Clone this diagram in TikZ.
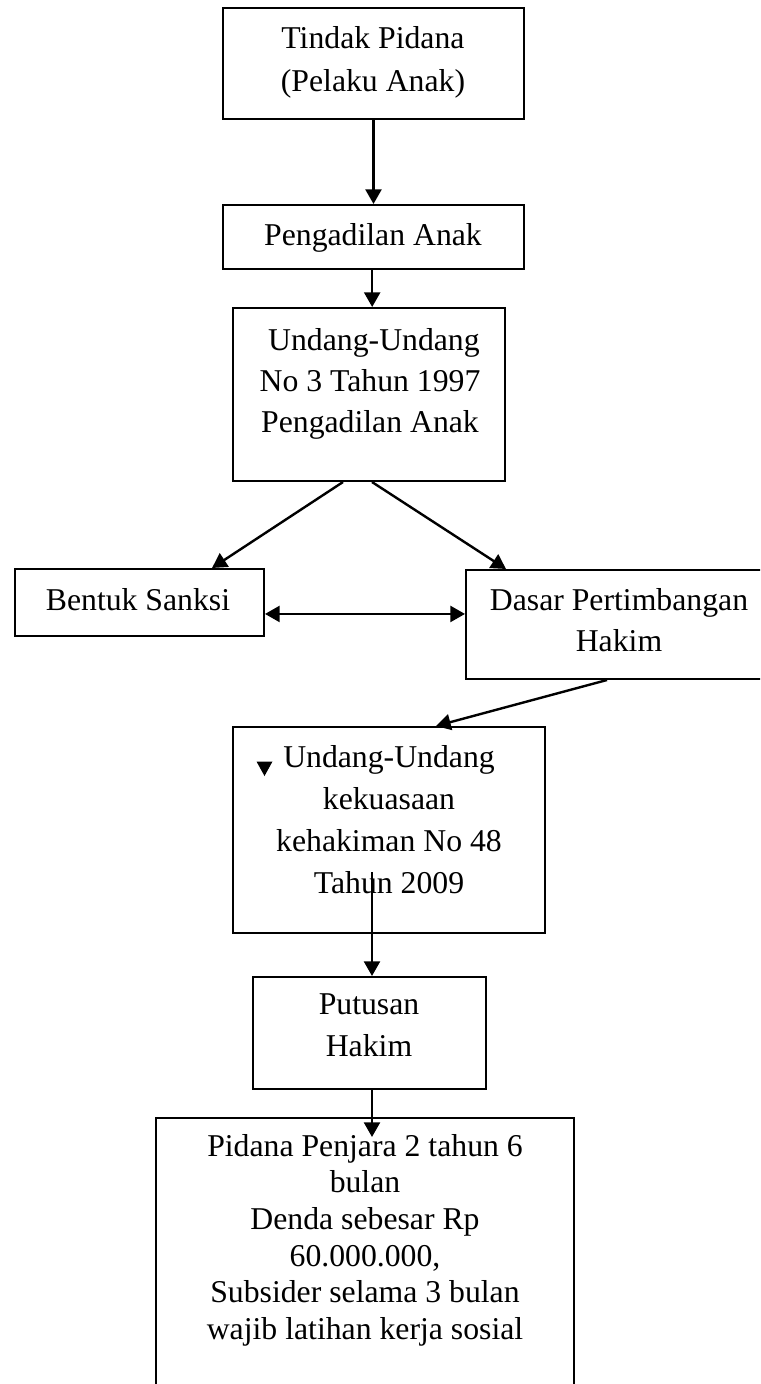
\documentclass[tikz,border=0pt]{standalone}
\usepackage{fontspec}
\setmainfont{Liberation Serif}
\usetikzlibrary{arrows.meta}
\begin{document}
\begin{tikzpicture}[x=0.75pt,y=-0.75pt,
  box/.style={draw=black,line width=1.5pt,rectangle,inner sep=0pt},
  txt/.style={inner sep=0pt,align=center,font=\fontsize{23.8pt}{#1}\selectfont},
  txt/.default={31.5pt},
  arr/.style={line width=1.8pt,-{Triangle[width=12pt,length=11pt]}},
  darr/.style={line width=1.8pt,{Triangle[width=12pt,length=11pt]}-{Triangle[width=12pt,length=11pt]}}]
\useasboundingbox (0,0) rectangle (760,1384);
\clip (0,0) rectangle (760,1384);
\fill[white] (0,0) rectangle (760,1384);
% boxes
\node[box,minimum width=225.75pt,minimum height=83.25pt] (b1) at (373.5,63.5) {};
\node[box,minimum width=225.75pt,minimum height=48pt] (b2) at (373.5,237) {};
\node[box,minimum width=204pt,minimum height=129.75pt] (b3) at (369,394.5) {};
\node[box,minimum width=186.75pt,minimum height=50.25pt] (bs) at (139.5,602.5) {};
\node[box,minimum width=229.5pt,minimum height=81.75pt] (dp) at (619,624.5) {};
\node[box,minimum width=234pt,minimum height=154.5pt] (b4) at (389,830) {};
\node[box,minimum width=174.75pt,minimum height=84pt] (b5) at (369.5,1033) {};
\node[box,anchor=north west,minimum width=313.5pt,minimum height=240pt] (b6) at (155,1117) {};
% texts
\node[txt={32.25pt},anchor=north] (t1) at (373,26) {Tindak Pidana\\(Pelaku Anak)};
\node[txt,anchor=base] (t2) at (373,245) {Pengadilan Anak};
\node[txt={30.75pt},anchor=north] (t3) at (370,328) {\hspace*{0.25em}Undang-Undang\\No 3 Tahun 1997\\Pengadilan Anak};
\node[txt,anchor=base] (ts) at (138,610) {Bentuk Sanksi};
\node[txt={30.75pt},anchor=north] (td) at (619,588) {Dasar Pertimbangan\\Hakim};
\node[txt,anchor=north] (t4) at (389,745) {Undang-Undang\\kekuasaan\\kehakiman No 48\\Tahun 2009};
\node[txt,anchor=north] (t5) at (369,993) {Putusan\\Hakim};
\node[txt={27.45pt},anchor=north] (t6) at (365,1134) {Pidana Penjara 2 tahun 6\\bulan\\Denda sebesar Rp\\60.000.000,\\Subsider selama 3 bulan\\wajib latihan kerja sosial};
% stray arrowhead
\fill (256.5,761.5) -- (272.5,761.5) -- (264.5,776) -- cycle;
% connectors
\coordinate (c4) at (372,872);
\coordinate (c6) at (372,1137);
\draw[arr] (b1.south) -- (b2.north);
\draw[arr] ([xshift=-1pt]b2.south) -- ([xshift=-1pt]b2.south |- b3.north);
\draw[arr] ([xshift=-19.5pt]b3.south) -- ([xshift=54.4pt]bs.north);
\draw[arr] ([xshift=2.25pt]b3.south) -- ([xshift=-84.75pt]dp.north);
\draw[darr] ([yshift=-8.6pt]bs.east) -- ([yshift=-8.6pt]bs.east -| dp.west);
\draw[arr] ([xshift=-9pt]dp.south) -- ([xshift=35.25pt]b4.north);
\draw[arr] (c4) -- (c4 |- b5.north);
\draw[arr] (b5.south -| c6) -- (c6);
\end{tikzpicture}
\end{document}
